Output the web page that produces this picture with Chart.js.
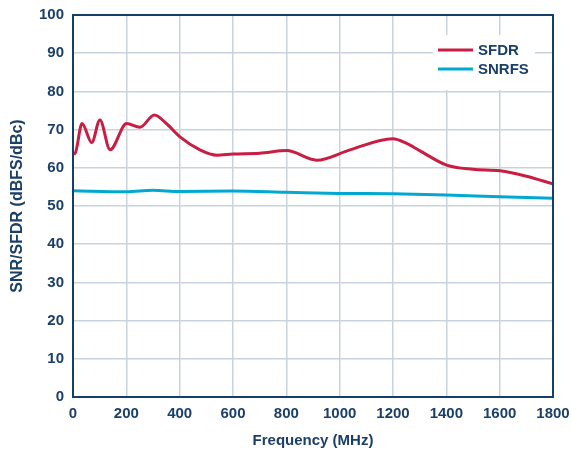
<!DOCTYPE html>
<html>
<head>
<meta charset="utf-8">
<script src="https://cdn.jsdelivr.net/npm/chart.js@4"></script>
<style>
  html, body { margin: 0; padding: 0; background: #fff; }
  #wrap { width: 572px; height: 450px; }
</style>
</head>
<body>
<div id="wrap"><canvas id="chart" width="572" height="450"></canvas></div>
<script>
// 読み取った値
const sfdrFreq = [0, 8, 34, 70, 101, 139, 201, 251, 305, 350, 401, 476, 539, 600, 700, 801, 914, 1039, 1199, 1251, 1300, 1401, 1500, 1601, 1700, 1800];
const sfdrVals = [63.6, 63.8, 71.6, 66.6, 72.5, 64.7, 71.6, 70.6, 73.8, 71.6, 68.1, 64.7, 63.3, 63.6, 63.8, 64.5, 62.0, 64.7, 67.6, 66.4, 64.5, 60.7, 59.6, 59.2, 57.8, 55.8];
const snrFreq = [0, 200, 300, 400, 600, 800, 1000, 1200, 1400, 1600, 1800];
const snrVals = [54.0, 53.7, 54.1, 53.8, 53.9, 53.6, 53.3, 53.2, 52.9, 52.4, 52.0];
const xTicks = [0, 200, 400, 600, 800, 1000, 1200, 1400, 1600, 1800];
const yTicks = [0, 10, 20, 30, 40, 50, 60, 70, 80, 90, 100];

const colors = {
  sfdr: '#c91d42',
  snr: '#00a8d2',
  text: '#1a3f69',
  grid: '#c9d3de',
  frame: '#163e6a'
};

const font = 'Liberation Sans, Arial, sans-serif';

// 凡例をプロット内に描く
const insideLegend = {
  id: 'insideLegend',
  afterDatasetsDraw(chart) {
    const ctx = chart.ctx;
    ctx.save();
    ctx.fillStyle = '#fff';
    ctx.fillRect(433, 35, 102, 55);
    ctx.font = 'bold 15px ' + font;
    ctx.textBaseline = 'middle';
    chart.data.datasets.forEach((ds, i) => {
      const y = 50 + i * 19;
      ctx.strokeStyle = ds.borderColor;
      ctx.lineWidth = 3;
      ctx.beginPath();
      ctx.moveTo(438, y);
      ctx.lineTo(473, y);
      ctx.stroke();
      ctx.fillStyle = colors.text;
      ctx.fillText(ds.label, 478, y + 1);
    });
    ctx.restore();
  },
  afterDraw(chart) {
    const a = chart.chartArea;
    const ctx = chart.ctx;
    ctx.save();
    ctx.strokeStyle = colors.frame;
    ctx.lineWidth = 2;
    ctx.strokeRect(a.left, a.top, a.right - a.left, a.bottom - a.top);
    ctx.restore();
  }
};

new Chart(document.getElementById('chart'), {
  type: 'line',
  data: {
    datasets: [{
      label: 'SFDR',
      data: sfdrFreq.map((f, i) => ({ x: f, y: sfdrVals[i] })),
      borderColor: colors.sfdr,
      borderWidth: 3,
      pointRadius: 0,
      cubicInterpolationMode: 'monotone'
    }, {
      label: 'SNRFS',
      data: snrFreq.map((f, i) => ({ x: f, y: snrVals[i] })),
      borderColor: colors.snr,
      borderWidth: 3,
      pointRadius: 0,
      cubicInterpolationMode: 'monotone'
    }]
  },
  options: {
    responsive: false,
    animation: false,
    layout: { padding: { left: 0, right: 19, top: 15, bottom: 0 } },
    plugins: {
      legend: { display: false },
      tooltip: { enabled: false }
    },
    scales: {
      x: {
        type: 'linear',
        min: 0,
        max: 1800,
        afterBuildTicks: (s) => { s.ticks = xTicks.map(v => ({ value: v })); },
        afterFit: (s) => { s.height = 53; s.paddingLeft = 0; s.paddingRight = 0; },
        grid: { color: colors.grid, lineWidth: 1.5, drawTicks: false },
        border: { display: false },
        ticks: {
          color: colors.text,
          font: { family: font, size: 15, weight: 'bold' },
          padding: 8,
          maxRotation: 0,
          callback: (v) => String(v)
        },
        title: {
          display: true,
          text: 'Frequency (MHz)',
          color: colors.text,
          font: { family: font, size: 15, weight: 'bold' },
          padding: { top: 9, bottom: 0 }
        }
      },
      y: {
        min: 0,
        max: 100,
        afterBuildTicks: (s) => { s.ticks = yTicks.map(v => ({ value: v })); },
        afterFit: (s) => { s.width = 73; s.paddingTop = 0; s.paddingBottom = 0; },
        grid: { color: colors.grid, lineWidth: 1.5, drawTicks: false },
        border: { display: false },
        ticks: {
          color: colors.text,
          font: { family: font, size: 15, weight: 'bold' },
          padding: 9,
          callback: (v) => String(v)
        },
        title: {
          display: true,
          text: 'SNR/SFDR (dBFS/dBc)',
          color: colors.text,
          font: { family: font, size: 16, weight: 'bold' },
          padding: { top: 8, bottom: 0 }
        }
      }
    }
  },
  plugins: [insideLegend]
});
</script>
</body>
</html>
